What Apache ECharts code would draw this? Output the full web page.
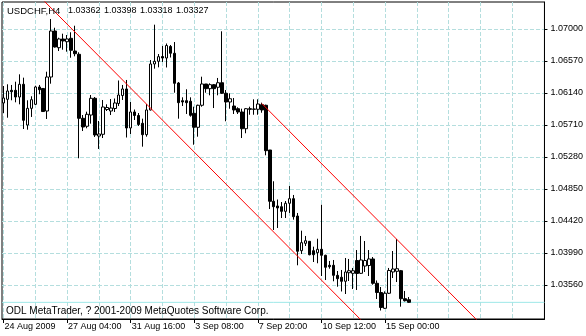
<!DOCTYPE html>
<html>
<head>
<meta charset="utf-8">
<script src="https://cdn.jsdelivr.net/npm/echarts@6.0.0/dist/echarts.min.js"></script>
<style>
html,body{margin:0;padding:0;background:#fff;}
#c{width:586px;height:336px;}
</style>
</head>
<body>
<div id="c"></div>
<script>
// ---- data (H4 bars, index 0 = 24 Aug 2009 12:00) ----
const symbolName = 'USDCHF,H4';
const opens = [
1.06006,1.06055,1.06176,1.06176,1.06086,1.06257,1.05710,1.05934,1.05988,1.06221,
1.06201,1.05898,1.06355,1.06973,1.06749,1.06866,1.06829,1.06875,1.06704,1.06660,
1.05800,1.05693,1.05844,1.06069,1.05562,1.05585,1.05918,1.05898,1.05932,1.05999,
1.06106,1.06194,1.05670,1.05885,1.05838,1.05733,1.05580,1.05912,1.06530,1.06566,
1.06630,1.06610,1.06765,1.06674,1.06274,1.06037,1.06037,1.06029,1.05867,1.05679,
1.05975,1.06261,1.06198,1.06252,1.06217,1.06278,1.06136,1.06019,1.05965,1.05929,
1.05885,1.05660,1.05929,1.05921,1.05921,1.05983,1.05975,1.05374,1.04685,1.04622,
1.04612,1.04550,1.04658,1.04720,1.04487,1.04021,1.04120,1.04147,1.04021,1.03994,
1.04040,1.03959,1.03825,1.03825,1.03690,1.03664,1.03610,1.03725,1.03717,1.03889,
1.03717,1.03815,1.03822,1.03910,1.03583,1.03459,1.03247,1.03449,1.03735,1.03744,
1.03752,1.03376,1.03362];
const closes = [
1.06073,1.06167,1.06157,1.06086,1.06257,1.05773,1.05934,1.06050,1.06221,1.06184,
1.05891,1.06355,1.06973,1.06758,1.06866,1.06839,1.06866,1.06714,1.06668,1.05800,
1.05683,1.05854,1.06069,1.05576,1.05589,1.05952,1.05945,1.05938,1.06006,1.06113,
1.06194,1.05670,1.05885,1.05838,1.05717,1.05580,1.05912,1.06530,1.06566,1.06628,
1.06610,1.06778,1.06674,1.06270,1.06010,1.06019,1.06010,1.05840,1.05679,1.05975,
1.06261,1.06198,1.06252,1.06198,1.06278,1.06136,1.06019,1.06063,1.05912,1.05885,
1.05660,1.05929,1.05921,1.05925,1.05992,1.05912,1.05365,1.04685,1.04612,1.04595,
1.04550,1.04658,1.04720,1.04478,1.04013,1.04129,1.04155,1.03967,1.03967,1.04040,
1.03959,1.03798,1.03806,1.03690,1.03645,1.03610,1.03735,1.03752,1.03752,1.03715,
1.03896,1.03889,1.03910,1.03583,1.03459,1.03258,1.03449,1.03755,1.03775,1.03779,
1.03376,1.03349,1.03327];
const lows = [
1.05871,1.05808,1.06042,1.06015,1.05988,1.05656,1.05647,1.05818,1.05979,1.06123,
1.05885,1.05791,1.06265,1.06751,1.06704,1.06722,1.06695,1.06614,1.06633,1.05263,
1.05629,1.05666,1.05728,1.05549,1.05388,1.05535,1.05898,1.05844,1.05885,1.05965,
1.06046,1.05542,1.05589,1.05777,1.05697,1.05419,1.05553,1.05905,1.06467,1.06485,
1.06557,1.06483,1.06617,1.06144,1.05795,1.05965,1.05858,1.05822,1.05445,1.05553,
1.05956,1.06144,1.06109,1.05938,1.06109,1.06127,1.05760,1.05929,1.05858,1.05858,
1.05535,1.05599,1.05848,1.05848,1.05848,1.05875,1.05303,1.04581,1.04299,1.04326,
1.04460,1.04460,1.04528,1.04438,1.03825,1.03977,1.04084,1.03959,1.03869,1.03852,
1.03681,1.03627,1.03779,1.03610,1.03537,1.03473,1.03439,1.03614,1.03506,1.03493,
1.03708,1.03735,1.03681,1.03564,1.03372,1.03217,1.03238,1.03439,1.03654,1.03600,
1.03269,1.03338,1.03318];
const highs = [
1.06234,1.06257,1.06248,1.06292,1.06391,1.06346,1.06042,1.06096,1.06238,1.06248,
1.06207,1.06426,1.07134,1.07017,1.06883,1.06937,1.06919,1.06956,1.07044,1.06687,
1.05844,1.05889,1.06113,1.06086,1.05764,1.06046,1.05988,1.06059,1.06066,1.06308,
1.06248,1.06315,1.06019,1.05918,1.05871,1.05795,1.05992,1.06583,1.07058,1.06664,
1.06772,1.06805,1.06785,1.06825,1.06288,1.06082,1.06190,1.06082,1.05956,1.05983,
1.06359,1.06261,1.06270,1.06261,1.06342,1.06969,1.06180,1.06136,1.06073,1.05948,
1.05929,1.05938,1.05956,1.06055,1.06055,1.06010,1.05983,1.05374,1.04954,1.04709,
1.04675,1.04689,1.04890,1.04770,1.04528,1.04290,1.04219,1.04151,1.04075,1.04182,
1.04639,1.03967,1.03883,1.03896,1.03748,1.03762,1.03923,1.03910,1.03789,1.04030,
1.04219,1.04151,1.04030,1.03936,1.03621,1.03533,1.03475,1.03789,1.04017,1.04178,
1.03762,1.03480,1.03398];
const xLabelIdx = [0,16,32,48,64,80,96];
const xLabels = ['24 Aug 2009','27 Aug 04:00','31 Aug 16:00','3 Sep 08:00','7 Sep 20:00','10 Sep 12:00','15 Sep 00:00'];
const xGridIdx = [0,8,16,24,32,40,48,56,64,72,80,88,96,104,112,120,128,136];
const yTicks = [1.03560,1.03990,1.04420,1.04850,1.05280,1.05710,1.06140,1.06570,1.07000];
// equidistant channel lines: [barIndex, price] end points
const channelLine1 = [[10, 1.07388],[92, 1.02981]];
const channelLine2 = [[65, 1.05999],[121, 1.02989]];
const footerText = 'ODL MetaTrader, ? 2001-2009 MetaQuotes Software Corp.';

// ---- layout ----
const X_MIN = -0.375, X_MAX = 136.125;
const Y_MIN = 1.031032, Y_MAX = 1.073628;
const FONT = '"Liberation Sans", Arial, sans-serif';
const GRID_COLOR = '#b4dede';

const last = opens.length - 1;
const candleData = opens.map((o, i) => [i, o, closes[i], lows[i], highs[i]]);
const bidLine = [[X_MIN, closes[last]], [X_MAX, closes[last]]];
const hdrVals = [opens[last], highs[last], lows[last], closes[last]].map(v => v.toFixed(5));
const hdrX = [68, 104, 140, 176];

const chart = echarts.init(document.getElementById('c'), null, {renderer: 'canvas'});
chart.setOption({
  animation: false,
  backgroundColor: '#fff',
  grid: {left: 2, right: 38, top: 2, bottom: 17, show: true, borderColor: '#000', borderWidth: 1, backgroundColor: 'transparent'},
  xAxis: [{
    type: 'value', min: X_MIN, max: X_MAX, position: 'bottom',
    axisLine: {show: true, onZero: false, lineStyle: {color: '#000', width: 1}},
    axisTick: {show: true, customValues: xLabelIdx, length: 4, lineStyle: {color: '#000'}},
    axisLabel: {show: true, customValues: xLabelIdx, align: 'left', margin: 3,
      formatter: v => xLabels[xLabelIdx.indexOf(Math.round(v))] || '',
      fontSize: 9, fontFamily: FONT, color: '#000', padding: [0,0,0,1]},
    splitLine: {show: false}
  }, {
    type: 'value', min: X_MIN, max: X_MAX, position: 'top',
    axisLine: {show: false},
    axisTick: {show: false, customValues: xGridIdx},
    axisLabel: {show: false, customValues: xGridIdx},
    splitLine: {show: true, lineStyle: {color: GRID_COLOR, width: 1, type: [4, 2]}}
  }],
  yAxis: {
    type: 'value', min: Y_MIN, max: Y_MAX, position: 'right', scale: true,
    axisLine: {show: true, onZero: false, lineStyle: {color: '#000', width: 1}},
    axisTick: {show: true, customValues: yTicks, length: 3, lineStyle: {color: '#000'}},
    axisLabel: {show: true, customValues: yTicks, margin: 6, formatter: v => v.toFixed(5),
      fontSize: 9, fontFamily: FONT, color: '#000'},
    splitLine: {show: true, lineStyle: {color: GRID_COLOR, width: 1, type: [4, 2]}}
  },
  series: [{
    type: 'line', data: bidLine, showSymbol: false, symbol: 'none', clip: true,
    lineStyle: {color: '#9ee8e8', width: 1}, silent: true, z: 2
  }, {
    type: 'candlestick',
    dimensions: ['idx', 'open', 'close', 'lowest', 'highest'],
    encode: {x: 'idx', y: ['open', 'close', 'lowest', 'highest']},
    data: candleData,
    barWidth: 3,
    itemStyle: {color: '#fff', color0: '#000', borderColor: '#000', borderColor0: '#000', borderColorDoji: '#000', borderWidth: 1},
    z: 3
  }, {
    type: 'line', data: channelLine1, showSymbol: false, symbol: 'none', clip: true,
    lineStyle: {color: '#ff0000', width: 1}, silent: true, z: 4
  }, {
    type: 'line', data: channelLine2, showSymbol: false, symbol: 'none', clip: true,
    lineStyle: {color: '#ff0000', width: 1}, silent: true, z: 4
  }],
  graphic: [
    {type: 'text', x: 7, y: 11, z: 10, style: {text: symbolName, font: '9.5px ' + FONT, fill: '#000', verticalAlign: 'middle'}},
    ...hdrVals.map((t, k) => ({type: 'text', x: hdrX[k], y: 11, z: 10, style: {text: t, font: '9px ' + FONT, fill: '#000', verticalAlign: 'middle'}})),
    {type: 'text', x: 6, y: 311, z: 10, style: {text: footerText, font: '10px ' + FONT, fill: '#000', verticalAlign: 'middle'}}
  ]
});
</script>
</body>
</html>
